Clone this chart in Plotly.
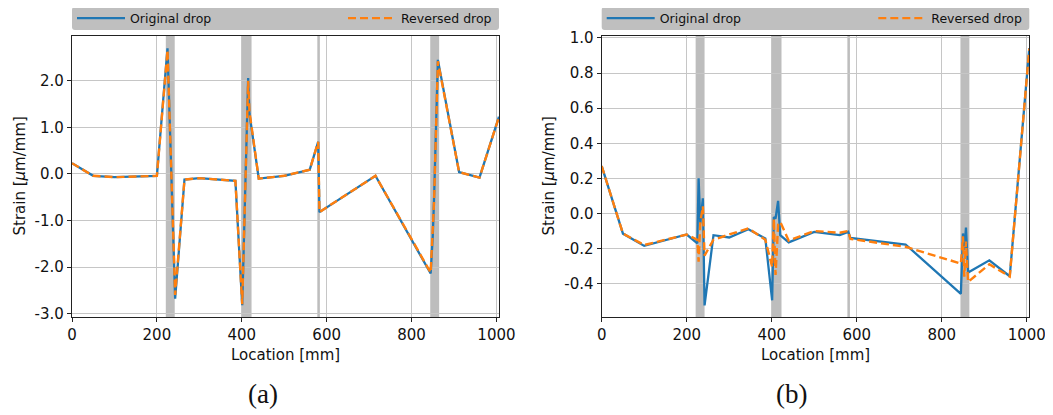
import plotly.graph_objects as go

# ---------------- data ----------------
# Panel (a)
xa = [0, 50, 100, 200, 225, 236, 243, 265, 300, 385, 401, 415, 418, 440, 500, 560, 580, 583,
      715, 845, 850, 853, 862, 912, 960, 1006]
a_original = [0.23, -0.04, -0.07, -0.04, 2.70, -0.80, -2.68, -0.12, -0.09, -0.15, -2.82, 2.06, 1.30,
              -0.10, -0.04, 0.09, 0.69, -0.82, -0.04, -2.14, -1.32, -0.53, 2.45, 0.04, -0.08, 1.23]
a_reversed = [0.23, -0.04, -0.07, -0.04, 2.66, -0.55, -2.60, -0.12, -0.09, -0.15, -2.80, 2.00, 1.35,
              -0.10, -0.04, 0.09, 0.69, -0.82, -0.04, -2.12, -1.25, -0.60, 2.42, 0.04, -0.08, 1.23]

# Panel (b)
xb = [0, 50, 100, 200, 225, 228, 232, 238, 242, 263, 300, 345, 385, 401, 405, 409, 415, 420, 440,
      500, 560, 580, 585, 715, 845, 850, 853, 857, 862, 912, 960, 1006]
b_original = [0.27, -0.115, -0.185, -0.12, -0.17, 0.20, -0.057, 0.086, -0.524, -0.124, -0.137, -0.09,
              -0.143, -0.495, -0.02, -0.03, 0.072, -0.124, -0.165, -0.105, -0.124, -0.105, -0.14,
              -0.177, -0.458, -0.114, -0.21, -0.08, -0.337, -0.267, -0.358, 0.943]
b_reversed = [0.27, -0.115, -0.18, -0.12, -0.15, -0.275, -0.05, 0.04, -0.24, -0.15, -0.12, -0.085,
              -0.15, -0.305, -0.03, -0.35, -0.065, -0.048, -0.155, -0.10, -0.11, -0.10, -0.145,
              -0.19, -0.286, -0.13, -0.36, -0.16, -0.39, -0.29, -0.36, 0.94]

# shaded regions (mm)
bands = [(221, 242), (399, 423), (578, 584), (844, 865)]

x_ticks = [0, 200, 400, 600, 800, 1000]
ya_ticks = [-3.0, -2.0, -1.0, 0.0, 1.0, 2.0]
ya_text = ["-3.0", "-2.0", "-1.0", "0.0", "1.0", "2.0"]
yb_ticks = [-0.4, -0.2, 0.0, 0.2, 0.4, 0.6, 0.8, 1.0]
yb_text = ["-0.4", "-0.2", "0.0", "0.2", "0.4", "0.6", "0.8", "1.0"]

# ---------------- layout geometry ----------------
OFF = 8                       # page body margin
W, H = 1053 - OFF, 415 - OFF
BLUE, ORANGE = "#1f77b4", "#ff7f0e"
FONT = "DejaVu Sans"

def px_x(p):
    return (p - OFF) / W

def px_y(p):
    return 1 - (p - OFF) / H

a_left, a_right = 72, 499
b_left, b_right = 601.7, 1029.3
p_top, p_bot = 35.7, 317.3

fig = go.Figure()

fig.add_trace(go.Scatter(x=xa, y=a_original, mode="lines", name="Original drop",
                         line=dict(color=BLUE, width=2.3), xaxis="x", yaxis="y", legend="legend"))
fig.add_trace(go.Scatter(x=xa, y=a_reversed, mode="lines", name="Reversed drop",
                         line=dict(color=ORANGE, width=2.4, dash="8px,4px"), xaxis="x", yaxis="y",
                         legend="legend2"))
fig.add_trace(go.Scatter(x=xb, y=b_original, mode="lines", name="Original drop",
                         line=dict(color=BLUE, width=2.3), xaxis="x2", yaxis="y2", legend="legend3"))
fig.add_trace(go.Scatter(x=xb, y=b_reversed, mode="lines", name="Reversed drop",
                         line=dict(color=ORANGE, width=2.4, dash="8px,4px"), xaxis="x2", yaxis="y2",
                         legend="legend4"))

axis_common = dict(showline=True, linecolor="#222", linewidth=1.2, mirror=True,
                   showgrid=True, gridcolor="#c6c6c6", gridwidth=1.2, zeroline=False,
                   ticks="outside", ticklen=4, tickwidth=1.2, tickcolor="#222",
                   tickfont=dict(family=FONT, size=15, color="#111"), automargin=False)

shapes = []
for xr, yr in (("x", "y"), ("x2", "y2")):
    for lo, hi in bands:
        shapes.append(dict(type="rect", xref=xr, yref=yr + " domain", x0=lo, x1=hi, y0=0, y1=1,
                           fillcolor="#bdbdbd", line=dict(width=0), layer="below"))

def rounded(x0, x1, y0, y1, r=3):
    X = lambda v: f"{px_x(v):.6f}"
    Y = lambda v: f"{px_y(v):.6f}"
    return (f"M{X(x0 + r)},{Y(y0)} L{X(x1 - r)},{Y(y0)} Q{X(x1)},{Y(y0)} {X(x1)},{Y(y0 + r)} "
            f"L{X(x1)},{Y(y1 - r)} Q{X(x1)},{Y(y1)} {X(x1 - r)},{Y(y1)} "
            f"L{X(x0 + r)},{Y(y1)} Q{X(x0)},{Y(y1)} {X(x0)},{Y(y1 - r)} "
            f"L{X(x0)},{Y(y0 + r)} Q{X(x0)},{Y(y0)} {X(x0 + r)},{Y(y0)} Z")

for l, r in ((a_left, a_right), (b_left, b_right)):
    shapes.append(dict(type="path", xref="paper", yref="paper", path=rounded(l, r, 7, 30),
                       fillcolor="#bfbfbf", line=dict(width=0), layer="below"))

leg_y = px_y(18.5)
leg_common = dict(orientation="h", yanchor="middle", y=leg_y, bgcolor="rgba(0,0,0,0)",
                  borderwidth=0, font=dict(family=FONT, size=12.5, color="#111"), itemwidth=48,
                  xref="paper", yref="paper")

def ann(text, x, y, size, family=FONT, angle=0):
    return dict(text=text, x=px_x(x), y=px_y(y), xref="paper", yref="paper", showarrow=False,
                textangle=angle, font=dict(family=family, size=size, color="#111"),
                xanchor="center", yanchor="middle")

annotations = [
    ann("Location [mm]", (a_left + a_right) / 2, 355, 15),
    ann("Location [mm]", (b_left + b_right) / 2, 355, 15),
    ann("Strain [<i>μ</i>m/mm]", 19, (p_top + p_bot) / 2, 15, angle=-90),
    ann("Strain [<i>μ</i>m/mm]", 548, (p_top + p_bot) / 2, 15, angle=-90),
    ann("(a)", 263, 394, 27, family="Liberation Serif"),
    ann("(b)", 791, 394, 27, family="Liberation Serif"),
]

fig.update_layout(
    width=W, height=H, template="none",
    margin=dict(l=0, r=0, t=0, b=0, autoexpand=False),
    paper_bgcolor="white", plot_bgcolor="white",
    showlegend=True,
    xaxis=dict(domain=[px_x(a_left), px_x(a_right)], range=[0, 1006], tickvals=x_ticks,
               anchor="y", **axis_common),
    yaxis=dict(domain=[px_y(p_bot), px_y(p_top)], range=[-3.08, 2.97], tickvals=ya_ticks,
               ticktext=ya_text, anchor="x", **axis_common),
    xaxis2=dict(domain=[px_x(b_left), px_x(b_right)], range=[0, 1006], tickvals=x_ticks,
                anchor="y2", **axis_common),
    yaxis2=dict(domain=[px_y(p_bot), px_y(p_top)], range=[-0.592, 1.013], tickvals=yb_ticks,
                ticktext=yb_text, anchor="x2", **axis_common),
    legend=dict(x=px_x(a_left), xanchor="left", **leg_common),
    legend2=dict(x=px_x(a_right - 2), xanchor="right", **leg_common),
    legend3=dict(x=px_x(b_left), xanchor="left", **leg_common),
    legend4=dict(x=px_x(b_right - 2), xanchor="right", **leg_common),
    shapes=shapes,
    annotations=annotations,
)

fig.write_html("out.html")
